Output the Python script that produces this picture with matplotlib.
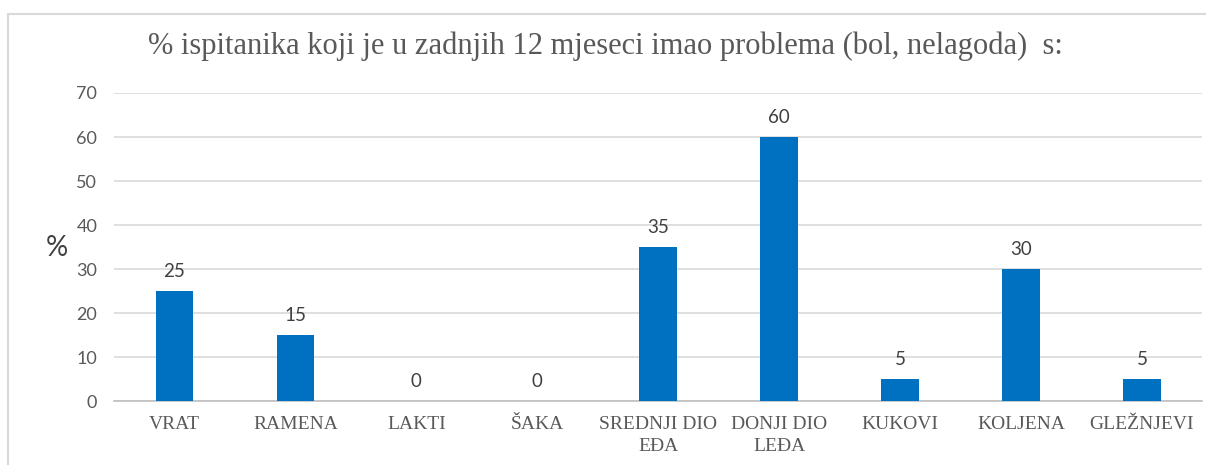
import matplotlib.pyplot as plt
from matplotlib.patches import Rectangle

categories = ['VRAT', 'RAMENA', 'LAKTI', 'ŠAKA', 'SREDNJI DIO\nEĐA',
              'DONJI DIO\nLEĐA', 'KUKOVI', 'KOLJENA', 'GLEŽNJEVI']
values = [25, 15, 0, 0, 35, 60, 5, 30, 5]
yticks = [0, 10, 20, 30, 40, 50, 60, 70]

title = '% ispitanika koji je u zadnjih 12 mjeseci imao problema (bol, nelagoda)  s:'

fig = plt.figure(figsize=(12.06, 4.65), dpi=100)
ax = fig.add_axes([0.0945, 0.1376, 0.9025, 0.6624])

x = range(len(categories))
ax.bar(x, values, width=0.31, color='#0070C0', zorder=3)

for xi, v in zip(x, values):
    ax.annotate(str(v), (xi, v), xytext=(0, 8), textcoords='offset points',
                ha='center', va='bottom', fontsize=13.5, color='#404040',
                family='Lato')

ax.set_xlim(-0.5, len(categories) - 0.5)
ax.set_ylim(0, 70)
ax.set_yticks(yticks)
ax.yaxis.grid(True, color='#D9D9D9', linewidth=1.2, zorder=0)
ax.set_xticks(list(x))
ax.set_xticklabels(categories, family='Liberation Serif', fontsize=14,
                   color='#595959', linespacing=1.4)
for lbl in ax.get_yticklabels():
    lbl.set_family('Lato')
    lbl.set_fontsize(13)
    lbl.set_color('#595959')
ax.tick_params(length=0, pad=12)
ax.tick_params(axis='x', pad=11)

for side in ['top', 'right', 'left']:
    ax.spines[side].set_visible(False)
ax.spines['bottom'].set_color('#BFBFBF')
ax.spines['bottom'].set_linewidth(1.2)

fig.text(0.047, 0.466, '%', family='Lato', fontsize=20, color='#404040',
         ha='center', va='center')
fig.text(0.502, 0.9, title, family='Liberation Serif', fontsize=22,
         color='#595959', ha='center', va='center')

# outer chart frame
fig.patches.append(Rectangle((8 / 1206, -0.1), 1.2, 1 - 14 / 465 + 0.1,
                             transform=fig.transFigure, fill=False,
                             edgecolor='#D9D9D9', linewidth=1.5))

fig.savefig('out.png', dpi=100)
